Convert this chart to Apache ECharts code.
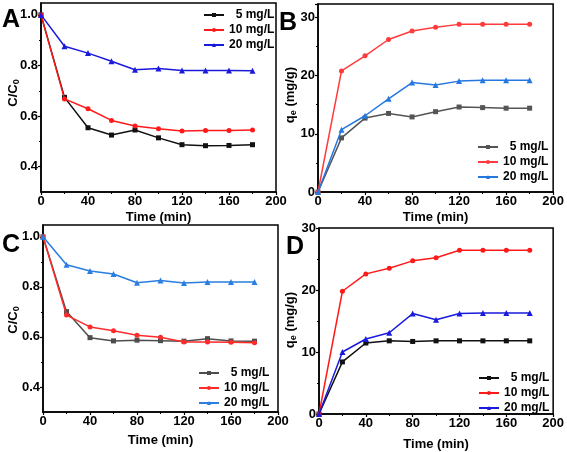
<!DOCTYPE html>
<html>
<head>
<meta charset="utf-8">
<script src="https://cdn.jsdelivr.net/npm/echarts@6/dist/echarts.min.js"></script>
<style>html,body{margin:0;padding:0;background:#fff;}#c{width:567px;height:452px;}</style>
</head>
<body>
<div id="c"></div>
<script>
// ---- data ----
var times = [0, 20, 40, 60, 80, 100, 120, 140, 160, 180];
var seriesNames = ['5 mg/L', '10 mg/L', '20 mg/L'];
// Panel A: C/C0
var A5  = [1.0, 0.674, 0.554, 0.525, 0.545, 0.514, 0.487, 0.483, 0.484, 0.487];
var A10 = [1.0, 0.668, 0.629, 0.583, 0.561, 0.550, 0.541, 0.543, 0.543, 0.545];
var A20 = [1.0, 0.876, 0.849, 0.817, 0.783, 0.788, 0.780, 0.780, 0.780, 0.779];
// Panel B: qe
var B5  = [0, 9.3, 12.7, 13.5, 12.9, 13.8, 14.6, 14.5, 14.4, 14.4];
var B10 = [0, 20.8, 23.4, 26.2, 27.65, 28.3, 28.8, 28.8, 28.8, 28.8];
var B20 = [0, 10.7, 13.1, 16.0, 18.8, 18.4, 19.05, 19.2, 19.2, 19.2];
// Panel C: C/C0
var C5  = [1.0, 0.701, 0.597, 0.584, 0.587, 0.585, 0.583, 0.593, 0.584, 0.583];
var C10 = [1.0, 0.687, 0.640, 0.625, 0.607, 0.599, 0.580, 0.580, 0.579, 0.577];
var C20 = [1.0, 0.888, 0.863, 0.851, 0.816, 0.825, 0.815, 0.819, 0.819, 0.819];
// Panel D: qe
var D5  = [0, 8.4, 11.45, 11.8, 11.7, 11.8, 11.8, 11.8, 11.8, 11.8];
var D10 = [0, 19.8, 22.6, 23.5, 24.7, 25.2, 26.4, 26.4, 26.4, 26.4];
var D20 = [0, 10.0, 12.1, 13.1, 16.2, 15.2, 16.2, 16.3, 16.3, 16.3];
// tick labels
var xTicks = [0, 40, 80, 120, 160, 200];
var ratioTicks = [0.4, 0.6, 0.8, 1.0];
var ratioMinor = [0.5, 0.7, 0.9];

var FONT = '"Liberation Sans", Arial, sans-serif';

function pairs(vals) { return times.map(function (t, i) { return [t, vals[i]]; }); }

var grids = [
  {left: 41, top: 3, width: 235, height: 189},
  {left: 318, top: 4, width: 237, height: 188},
  {left: 43, top: 225, width: 235, height: 187},
  {left: 319, top: 228, width: 235, height: 190}
];
grids.forEach(function (g) { g.show = true; g.borderColor = '#000'; g.borderWidth = 1.5; g.containLabel = false; });

var xNameGaps = [19, 19, 22, 24];
var xAxes = grids.map(function (g, i) {
  return {
    type: 'value', gridIndex: i, min: 0, max: 200, interval: 40,
    name: 'Time (min)', nameLocation: 'middle', nameGap: xNameGaps[i],
    nameTextStyle: {fontFamily: FONT, fontWeight: 'bold', fontSize: 13, color: '#000'},
    axisLine: {show: true, lineStyle: {color: '#000', width: 1.5}},
    axisTick: {show: true, length: 3, lineStyle: {color: '#000', width: 1.2}},
    minorTick: {show: true, splitNumber: 2, length: 2, lineStyle: {color: '#000', width: 1}},
    axisLabel: {fontFamily: FONT, fontWeight: 'bold', fontSize: 13, color: '#000', margin: 3,
      customValues: xTicks},
    splitLine: {show: false}
  };
});

var yBase = function (i, extra) {
  var o = {
    type: 'value', gridIndex: i, position: 'left',
    axisLine: {show: true, lineStyle: {color: '#000', width: 1.5}},
    axisTick: {show: true, length: 3, lineStyle: {color: '#000', width: 1.2}},
    axisLabel: {fontFamily: FONT, fontWeight: 'bold', fontSize: 13, color: '#000', margin: 3},
    splitLine: {show: false}
  };
  for (var k in extra) o[k] = extra[k];
  return o;
};

var yAxes = [];
// 0: A
var ya = yBase(0, {min: 0.3, max: 1.047});
ya.axisLabel.customValues = ratioTicks; ya.axisLabel.formatter = function (v) { return v.toFixed(1); };
ya.axisTick.customValues = ratioTicks;
yAxes.push(ya);
// 1: B
var yb = yBase(1, {min: 0, max: 32.3, interval: 10});
yb.minorTick = {show: true, splitNumber: 2, length: 2, lineStyle: {color: '#000', width: 1}};
yb.axisLabel.customValues = [0, 10, 20, 30];
yAxes.push(yb);
// 2: C
var yc = yBase(2, {min: 0.3, max: 1.047});
yc.axisLabel.customValues = ratioTicks; yc.axisLabel.formatter = function (v) { return v.toFixed(1); };
yc.axisTick.customValues = ratioTicks;
yAxes.push(yc);
// 3: D
var yd = yBase(3, {min: 0, max: 30, interval: 10});
yd.minorTick = {show: true, splitNumber: 2, length: 2, lineStyle: {color: '#000', width: 1}};
yAxes.push(yd);
// 4,5: minor ticks for A and C
[0, 2].forEach(function (gi) {
  yAxes.push({
    type: 'value', gridIndex: gi, position: 'left', offset: 0, min: 0.3, max: 1.047,
    axisLine: {show: false}, axisLabel: {show: false}, splitLine: {show: false},
    axisTick: {show: true, length: 2, customValues: ratioMinor, lineStyle: {color: '#000', width: 1}}
  });
});

var palettes = [
  ['#111111', '#ff1a1a', '#1a1adc'],
  ['#555555', '#ff3b3b', '#2478e0'],
  ['#4d4d4d', '#ff2a2a', '#2a7de1'],
  ['#111111', '#ff1a1a', '#1a1adc']
];
var symbols = ['rect', 'circle', 'triangle'];
var sizes = [5, 5, 6];
var panelData = [[A5, A10, A20], [B5, B10, B20], [C5, C10, C20], [D5, D10, D20]];
var prefixes = ['A', 'B', 'C', 'D'];

var series = [];
panelData.forEach(function (set, pi) {
  set.forEach(function (vals, si) {
    series.push({
      type: 'line', name: prefixes[pi] + '|' + seriesNames[si],
      xAxisIndex: pi, yAxisIndex: pi,
      data: pairs(vals),
      symbol: symbols[si], symbolSize: sizes[si], showSymbol: true,
      lineStyle: {color: palettes[pi][si], width: 1.5},
      itemStyle: {color: palettes[pi][si]},
      z: 3 + si
    });
  });
});

var legendPos = [
  {left: 203, top: 8},
  {left: 477, top: 140},
  {left: 198, top: 366},
  {left: 478, top: 371}
];
var legends = legendPos.map(function (p, pi) {
  return {
    orient: 'vertical', left: p.left, top: p.top, padding: 0,
    itemWidth: 20, itemHeight: 5, itemGap: 1,
    data: seriesNames.map(function (n) { return prefixes[pi] + '|' + n; }),
    formatter: function (n) { var t = n.split('|')[1]; return t.length < 7 ? '  ' + t : t; },
    textStyle: {fontFamily: FONT, fontWeight: 'bold', fontSize: 12, color: '#000', lineHeight: 14},
    selectedMode: false
  };
});

var letters = [
  {t: 'A', x: 2, y: 8},
  {t: 'B', x: 279, y: 11},
  {t: 'C', x: 2, y: 233},
  {t: 'D', x: 286, y: 235}
];
var graphic = letters.map(function (l) {
  return {type: 'text', left: l.x, top: l.y, z: 100,
    style: {text: l.t, font: 'bold 25px ' + FONT, fill: '#000'}};
});

var richStyles = {
  b: {fontFamily: FONT, fontWeight: 'bold', fontSize: 13, fill: '#000', lineHeight: 16},
  s: {fontFamily: FONT, fontWeight: 'bold', fontSize: 9, fill: '#000', lineHeight: 9, verticalAlign: 'bottom'}
};
var yTitles = [
  {t: '{b|C/C}{s|0}', x: 13, y: 93},
  {t: '{b|q}{s|e}{b| (mg/g)}', x: 290, y: 95},
  {t: '{b|C/C}{s|0}', x: 13, y: 320},
  {t: '{b|q}{s|e}{b| (mg/g)}', x: 290, y: 320}
];
yTitles.forEach(function (yt) {
  graphic.push({type: 'text', x: yt.x, y: yt.y, rotation: Math.PI / 2, z: 100,
    style: {text: yt.t, rich: richStyles, align: 'center', verticalAlign: 'middle', fill: '#000',
      font: 'bold 13px ' + FONT}});
});

var chart = echarts.init(document.getElementById('c'), null, {renderer: 'canvas'});
chart.setOption({
  animation: false,
  backgroundColor: '#fff',
  grid: grids,
  xAxis: xAxes,
  yAxis: yAxes,
  legend: legends,
  series: series,
  graphic: graphic
});
</script>
</body>
</html>
